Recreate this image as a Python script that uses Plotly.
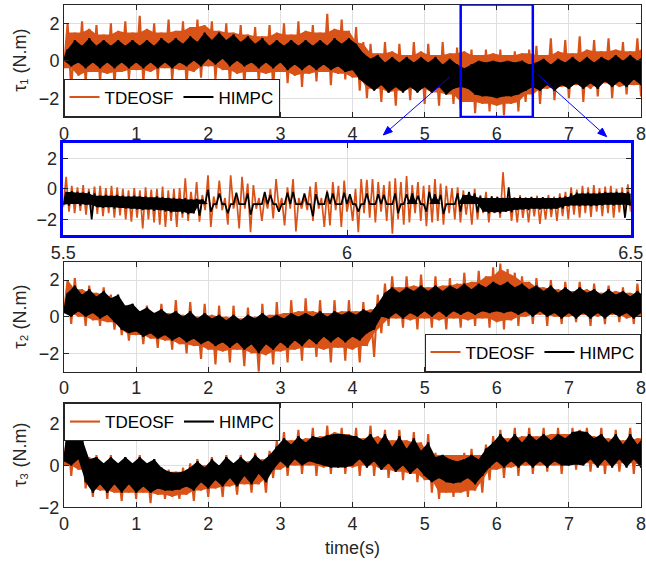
import math
import plotly.graph_objects as go

W, H = 646, 561
ORANGE = "rgb(217,83,25)"
BLACK = "rgb(0,0,0)"
BLUE = "rgb(0,0,255)"
AXC = "rgb(38,38,38)"
GRID = "rgb(223,223,223)"
FONT = "Liberation Sans, Arial, Helvetica, sans-serif"
FS = 18

# ---- sampling times -------------------------------------------------------
t_main = [k / 10 for k in range(81)]          # 0.0 ... 8.0 s, 0.1 s apart
t_zoom = [5.5 + k / 100 for k in range(101)]  # 5.50 ... 6.50 s, 0.01 s apart

# ---- tau1: peak (hi) and trough (lo) values per sample --------------------
tau1_tdeosf_hi = [2.0, 1.5, 2.1, 1.7, 1.9, 1.4, 2.0, 1.6, 2.1, 1.5,
                  2.4, 1.7, 2.0, 1.5, 2.2, 1.6, 2.1, 1.8, 2.2, 1.9,
                  2.1, 1.6, 2.0, 1.5, 1.9, 1.4, 1.8, 1.3, 1.9, 1.5,
                  2.0, 1.4, 2.1, 1.6, 1.9, 1.5, 2.5, 1.7, 2.2, 1.6,
                  1.8, 1.0, 0.9, 0.4, 1.0, 0.5, 0.9, 0.3, 1.0, 0.5,
                  0.9, 0.3, 1.0, 0.4, 0.7, 0.5, 0.6, 0.3, 0.6, 0.4,
                  0.6, 0.3, 0.5, 0.4, 0.6, 0.8, 0.3, 1.2, 0.5, 1.1,
                  0.4, 1.3, 0.6, 1.1, 0.5, 1.2, 0.6, 1.0, 0.5, 1.2, 0.7]
tau1_tdeosf_lo = [-0.4, -1.5, -0.8, -1.2, -0.6, -1.1, -0.7, -1.3, -0.6, -1.0,
                  -0.5, -1.2, -0.6, -1.0, -0.4, -1.1, -0.5, -1.3, -0.6, -0.9,
                  -0.3, -1.0, -0.5, -1.2, -0.7, -1.3, -0.6, -1.1, -0.7, -1.4,
                  -0.6, -1.2, -0.8, -1.4, -0.7, -1.1, -0.6, -1.3, -0.7, -1.0,
                  -0.9, -1.6, -2.0, -1.5, -2.2, -1.7, -2.4, -1.6, -2.1, -1.5,
                  -2.3, -1.7, -2.4, -1.8, -2.3, -2.6, -2.2, -2.8, -2.3, -2.7,
                  -2.4, -2.9, -2.3, -2.7, -2.2, -1.8, -2.3, -1.5, -2.1, -1.4,
                  -2.0, -1.3, -2.2, -1.5, -1.9, -1.2, -2.0, -1.4, -1.8, -1.3, -1.9]
tau1_himpc_hi = [0.6, 1.1, 0.8, 1.2, 0.8, 1.1, 0.8, 1.1, 0.8, 1.1,
                 0.8, 1.1, 0.8, 1.2, 0.9, 1.2, 0.9, 1.3, 1.0, 1.5,
                 1.1, 1.5, 1.1, 1.4, 1.0, 1.3, 0.9, 1.2, 0.8, 1.1,
                 0.8, 1.1, 0.8, 1.1, 0.8, 1.1, 0.8, 1.2, 0.9, 1.2,
                 0.9, 0.4, 0.1, 0.3, -0.1, 0.2, -0.1, 0.2, -0.1, 0.2,
                 -0.1, 0.2, -0.2, 0.1, -0.2, -0.4, -0.2, 0.0, -0.1, 0.0,
                 -0.1, 0.0, -0.1, 0.0, -0.2, -0.1, 0.1, -0.2, 0.1, -0.1,
                 0.2, -0.1, 0.2, -0.1, 0.2, 0.0, 0.3, 0.0, 0.3, 0.0, 0.3]
tau1_himpc_lo = [0.0, -0.3, -0.1, -0.4, -0.1, -0.4, -0.1, -0.4, -0.1, -0.4,
                 -0.1, -0.4, -0.1, -0.4, -0.1, -0.4, -0.1, -0.3, 0.0, -0.3,
                 0.1, -0.2, 0.1, -0.3, 0.0, -0.3, -0.1, -0.4, -0.1, -0.4,
                 -0.1, -0.5, -0.2, -0.5, -0.2, -0.5, -0.2, -0.5, -0.3, -0.6,
                 -0.5, -1.0, -1.3, -1.6, -1.3, -1.7, -1.4, -1.7, -1.4, -1.7,
                 -1.4, -1.7, -1.4, -1.8, -1.5, -1.4, -1.5, -1.8, -1.9, -1.9,
                 -2.0, -1.9, -1.9, -1.8, -1.6, -1.4, -1.6, -1.3, -1.6, -1.3,
                 -1.5, -1.2, -1.5, -1.2, -1.5, -1.1, -1.4, -1.1, -1.4, -1.0, -1.3]

# ---- tau1, close-up of 5.5 s ... 6.5 s -------------------------------------
zoom_tdeosf_hi = [0.8, 0.2, 0.1, 0.25, 0.0, 0.15, 0.2, 0.05, 0.2, 0.1,
                  0.0, -0.1, 0.05, -0.1, 0.1, -0.05, 0.0, 0.15, -0.1, 0.0,
                  0.05, 0.7, -0.2, 0.45, -0.4, 0.9, -0.5, 0.55, -0.6, 0.9,
                  -0.5, 0.8, 0.35, 0.25, -0.6, -0.5, 0.0, 0.65, -0.6, 0.1,
                  0.65, -0.6, -0.5, 0.15, 0.45, -0.6, -0.1, 0.45, 0.2, 0.55,
                  -0.5, 0.0, 0.65, 0.6, 0.65, 0.45, 0.25, 0.5, 0.7, 0.45,
                  0.85, 0.25, 0.45, 0.2, 0.25, 0.65, 0.35, 0.2, 0.05, 0.1,
                  -0.1, -0.3, 0.0, -0.4, -0.2, -0.5, -0.5, 1.1, -0.3, -0.55,
                  -0.4, -0.55, -0.5, -0.45, -0.55, -0.4, -0.5, -0.3, -0.2, 0.1,
                  -0.05, 0.2, 0.1, 0.25, 0.05, 0.15, 0.2, 0.0, 0.1, 0.3, 0.0]
zoom_tdeosf_lo = [-1.2, -1.5, -1.6, -1.45, -1.7, -1.5, -1.65, -1.8, -1.6, -1.9,
                  -1.75, -2.0, -2.15, -1.9, -2.6, -2.0, -2.2, -2.35, -2.5, -2.1,
                  -2.5, -1.9, -2.1, -1.6, -2.15, -1.4, -2.5, -1.3, -1.4, -2.35,
                  -1.3, -2.6, -1.3, -2.85, -1.3, -2.1, -1.3, -1.95, -1.3, -2.4,
                  -1.3, -2.8, -1.3, -1.4, -2.1, -1.3, -2.5, -2.4, -1.4, -2.5,
                  -1.5, -2.1, -2.85, -1.6, -1.9, -2.2, -1.5, -2.1, -2.95, -2.0,
                  -2.35, -2.2, -1.6, -2.1, -2.45, -2.2, -2.1, -2.35, -1.6, -2.0,
                  -2.2, -1.7, -2.35, -2.0, -1.6, -2.2, -1.6, -1.9, -1.5, -2.1,
                  -2.2, -1.9, -2.2, -1.8, -2.3, -2.0, -1.85, -2.1, -1.8, -2.0,
                  -1.7, -1.9, -1.6, -1.85, -1.5, -1.8, -1.6, -1.9, -1.55, -1.7, -1.5]
zoom_himpc_hi = [-0.2, -0.15, -0.2, -0.25, -0.2, -0.3, -0.45, -0.4, -0.45, -0.4,
                 -0.45, -0.5, -0.45, -0.5, -0.5, -0.55, -0.5, -0.55, -0.6, -0.6,
                 -0.65, -0.6, -0.7, -0.65, -0.7, -0.05, -1.0, -0.3, -1.0, -1.0,
                 -0.25, -1.0, -0.3, -1.0, -1.0, -0.2, -0.4, -1.0, -1.0, -0.25,
                 -0.2, -1.0, -0.3, -1.0, -0.35, -1.0, -0.2, -0.3, -1.0, -0.25,
                 -0.35, -1.0, -1.0, -0.3, -1.0, -0.35, -0.4, -1.0, -0.3, -1.0,
                 -0.35, -0.3, -0.45, -1.0, -0.2, -0.35, -0.4, -1.0, -1.0, -0.3,
                 -0.4, -0.2, -0.3, -0.5, -0.6, -0.5, -0.55, -0.6, 0.1, -0.6,
                 -0.55, -0.6, -0.55, -0.6, -0.55, -0.6, -0.6, -0.55, -0.5, -0.3,
                 -0.25, -0.3, -0.25, -0.3, -0.25, -0.2, -0.25, -0.2, -0.25, -0.2, -0.3]
zoom_himpc_lo = [-1.05, -1.1, -1.0, -1.1, -1.05, -2.0, -1.2, -1.25, -1.2, -1.3,
                 -1.25, -1.3, -1.3, -1.35, -1.4, -1.35, -1.45, -1.4, -1.5, -1.55,
                 -1.5, -1.6, -1.65, -1.6, -1.75, -1.0, -1.5, -1.0, -1.0, -1.6,
                 -1.0, -1.0, -1.0, -1.7, -1.0, -1.0, -1.0, -1.0, -1.5, -1.0,
                 -1.0, -1.0, -1.0, -1.0, -1.8, -1.0, -1.0, -1.0, -1.0, -1.0,
                 -1.0, -1.0, -1.5, -1.0, -1.0, -1.0, -1.0, -1.0, -1.0, -1.6,
                 -1.0, -1.0, -1.0, -1.0, -1.5, -1.0, -1.0, -1.65, -1.0, -1.0,
                 -1.5, -1.0, -1.0, -1.55, -1.5, -1.6, -1.55, -1.6, -1.5, -1.55,
                 -1.4, -1.35, -1.4, -1.3, -1.35, -1.3, -1.35, -1.3, -1.3, -1.15,
                 -1.1, -1.15, -1.1, -1.15, -1.1, -1.1, -1.05, -1.1, -1.05, -1.9, -1.1]

# ---- tau2 ----------------------------------------------------------------
tau2_tdeosf_hi = [2.0, 2.1, 1.5, 1.7, 1.3, 1.6, 1.2, 1.1, 0.5, 0.7,
                  0.2, 0.6, 0.1, 0.7, 0.2, 0.9, 0.1, 0.8, 0.0, 0.7,
                  0.1, 0.6, 0.0, 0.6, -0.1, 0.5, 0.0, 0.7, 0.1, 0.8,
                  0.2, 0.9, 0.3, 1.0, 0.3, 0.9, 0.2, 0.9, 0.3, 0.9,
                  0.3, 0.8, 0.4, 1.2, 1.8, 2.2, 1.6, 2.2, 1.7, 2.3,
                  1.6, 2.2, 1.7, 2.1, 1.8, 2.4, 1.9, 2.5, 2.2, 2.7,
                  2.9, 2.6, 2.4, 2.2, 1.9, 2.1, 1.6, 2.0, 1.5, 1.9,
                  1.4, 1.9, 1.5, 1.8, 1.3, 1.7, 1.4, 1.6, 1.3, 1.8, 1.2]
tau2_tdeosf_lo = [0.2, -0.4, 0.0, -0.5, -0.2, -0.5, -0.3, -0.7, -1.0, -1.3,
                  -1.0, -1.5, -1.2, -1.7, -1.3, -1.8, -1.5, -2.0, -1.6, -2.3,
                  -1.8, -2.6, -1.9, -2.5, -1.8, -2.7, -2.0, -3.0, -2.1, -2.6,
                  -1.9, -2.5, -1.8, -2.4, -1.7, -2.2, -1.8, -2.5, -1.7, -2.4,
                  -1.8, -2.5, -1.6, -2.2, -0.9, -0.5, -0.1, -0.6, -0.2, -0.7,
                  -0.1, -0.6, -0.2, -0.7, -0.1, -0.6, -0.2, -0.5, -0.1, -0.6,
                  -0.3, -0.7, -0.2, -0.5, 0.0, -0.4, 0.1, -0.5, 0.0, -0.4,
                  0.0, -0.3, 0.1, -0.5, 0.0, -0.4, 0.1, -0.3, -0.1, -0.4, 0.0]
tau2_himpc_hi = [1.3, 1.7, 1.2, 1.5, 1.1, 1.4, 1.0, 1.2, 0.6, 0.7,
                 0.3, 0.5, 0.2, 0.4, 0.1, 0.3, 0.0, 0.3, -0.1, 0.2,
                 -0.1, 0.1, -0.2, 0.1, -0.2, 0.1, -0.1, 0.2, -0.1, 0.1,
                 -0.1, 0.2, 0.0, 0.2, 0.0, 0.3, 0.0, 0.3, 0.1, 0.3,
                 0.1, 0.4, 0.2, 0.7, 1.3, 1.6, 1.3, 1.6, 1.4, 1.7,
                 1.4, 1.7, 1.4, 1.7, 1.5, 1.8, 1.5, 1.8, 1.6, 1.9,
                 1.7, 1.9, 1.6, 1.8, 1.5, 1.7, 1.4, 1.7, 1.3, 1.6,
                 1.3, 1.6, 1.3, 1.5, 1.2, 1.5, 1.2, 1.4, 1.1, 1.4, 1.1]
tau2_himpc_lo = [0.2, 0.0, 0.3, 0.0, 0.2, -0.1, 0.1, -0.3, -0.7, -0.9,
                 -0.8, -1.1, -0.9, -1.2, -1.0, -1.3, -1.1, -1.4, -1.2, -1.5,
                 -1.3, -1.6, -1.4, -1.7, -1.4, -1.8, -1.5, -2.0, -1.5, -1.8,
                 -1.4, -1.7, -1.3, -1.6, -1.2, -1.5, -1.1, -1.4, -1.1, -1.4,
                 -1.1, -1.3, -0.9, -0.7, 0.0, -0.1, 0.2, -0.1, 0.2, 0.0,
                 0.3, 0.0, 0.3, 0.0, 0.3, 0.1, 0.3, 0.1, 0.3, 0.2,
                 0.3, 0.2, 0.3, 0.1, 0.3, 0.0, 0.3, 0.0, 0.2, -0.1,
                 0.2, -0.1, 0.2, -0.1, 0.2, -0.1, 0.2, 0.0, 0.2, -0.1, 0.2]

# ---- tau3 ----------------------------------------------------------------
tau3_tdeosf_hi = [1.8, 1.3, 1.5, 0.4, 0.5, 0.1, 0.5, 0.0, 0.4, 0.1,
                  0.5, 0.0, 0.3, -0.1, -0.2, -0.3, -0.1, 0.1, 0.3, 0.0,
                  0.4, 0.0, 0.5, 0.1, 0.5, 0.2, 0.6, 0.3, 0.7, 1.2,
                  1.6, 1.2, 1.7, 1.3, 1.8, 1.4, 1.9, 1.6, 1.8, 1.5,
                  1.8, 1.3, 1.9, 1.4, 1.7, 1.2, 1.7, 1.2, 1.6, 1.1,
                  1.5, 0.6, 0.5, 0.5, 0.5, 0.6, 0.8, 0.5, 1.0, 1.4,
                  1.7, 1.3, 1.8, 1.4, 1.8, 1.4, 1.8, 1.5, 1.8, 1.5,
                  1.8, 1.7, 1.8, 1.4, 1.8, 1.3, 1.7, 1.2, 1.8, 1.3, 1.6]
tau3_tdeosf_lo = [0.0, -0.5, -0.2, -1.1, -1.5, -1.2, -1.6, -1.3, -1.7, -1.3,
                  -1.6, -1.3, -1.8, -1.4, -1.6, -1.5, -1.6, -1.4, -1.7, -1.2,
                  -1.5, -1.1, -1.5, -1.0, -1.4, -0.9, -1.3, -0.9, -1.3, -0.6,
                  -0.2, -0.5, 0.0, -0.4, 0.0, -0.5, -0.1, -0.4, 0.0, -0.4,
                  -0.1, -0.5, 0.0, -0.5, -0.2, -0.6, -0.3, -0.7, -0.4, -0.8,
                  -0.7, -1.3, -1.6, -1.3, -1.5, -1.3, -1.5, -1.2, -1.3, -0.7,
                  -0.2, -0.6, -0.1, -0.5, 0.0, -0.4, 0.0, -0.3, 0.0, -0.4,
                  0.0, -0.2, 0.1, -0.3, 0.0, -0.4, 0.0, -0.3, 0.1, -0.4, 0.0]
tau3_himpc_hi = [1.5, 1.2, 1.3, 0.3, 0.4, 0.1, 0.4, 0.1, 0.4, 0.1,
                 0.4, 0.1, 0.3, -0.1, -0.3, -0.35, -0.3, -0.1, 0.2, -0.1,
                 0.3, 0.0, 0.4, 0.1, 0.4, 0.1, 0.5, 0.2, 0.5, 0.9,
                 1.3, 1.0, 1.4, 1.1, 1.4, 1.3, 1.45, 1.5, 1.5, 1.45,
                 1.4, 1.2, 1.5, 1.0, 1.5, 0.9, 1.4, 0.8, 1.3, 0.7,
                 1.1, 0.4, 0.5, 0.3, 0.2, 0.3, 0.5, 0.3, 0.8, 1.1,
                 1.5, 1.1, 1.5, 1.1, 1.5, 1.2, 1.5, 1.2, 1.5, 1.3,
                 1.6, 1.65, 1.6, 1.3, 1.5, 1.1, 1.5, 1.0, 1.5, 1.0, 1.4]
tau3_himpc_lo = [0.2, 0.0, 0.3, -0.8, -1.3, -0.9, -1.3, -0.9, -1.3, -0.9,
                 -1.3, -1.0, -1.3, -1.1, -1.2, -1.2, -1.15, -1.0, -1.2, -0.8,
                 -1.1, -0.7, -1.0, -0.6, -1.0, -0.5, -0.9, -0.4, -0.8, -0.2,
                 0.2, -0.1, 0.3, 0.0, 0.2, 0.1, 0.0, -0.1, -0.1, -0.1,
                 0.0, 0.3, -0.1, 0.2, -0.2, 0.1, -0.3, 0.0, -0.4, -0.1,
                 -0.5, -0.8, -0.6, -0.8, -0.85, -0.8, -0.6, -0.9, -0.5, -0.1,
                 0.2, -0.1, 0.2, -0.1, 0.2, -0.1, 0.2, -0.1, 0.2, 0.0,
                 0.0, 0.05, 0.0, 0.3, -0.1, 0.3, -0.1, 0.3, -0.1, 0.3, -0.1]

series_names = ["TDEOSF", "HIMPC"]
x_ticks_main = [0, 1, 2, 3, 4, 5, 6, 7, 8]
x_ticks_zoom = [5.5, 6, 6.5]
y_ticks = [-2, 0, 2]
y_labels = {1: "τ₁ (N.m)", 3: "τ₂ (N.m)", 4: "τ₃ (N.m)"}


def zigzag(t, lo, hi, half):
    """Alternate trough and peak of every sample into one polyline."""
    xs, ys = [], []
    for tk, a, b in zip(t, lo, hi):
        xs += [tk, tk + half]
        ys += [a, b]
    return xs, ys


def outline(t, lo, hi, half, mode):
    """Closed outline of the area the signal sweeps densely.

    "full":   along the peaks and back along the troughs.
    "shared": only what neighbouring samples have in common, so that
              single spikes stay as bare lines.
    """
    n = len(t)
    if mode == "shared":
        top = [min(hi[max(k - 1, 0):k + 2]) for k in range(n)]
        bot = [max(lo[max(k - 1, 0):k + 2]) for k in range(n)]
    else:
        top, bot = list(hi), list(lo)
    xs = [tk + half for tk in t] + [tk for tk in reversed(t)]
    ys = top + bot[::-1]
    return xs, ys


fig = go.Figure()


def add_series(xa, ya, t, half, lo, hi, color, name, legend_id, lw, fill_mode):
    if fill_mode is not None:
        bx, by = outline(t, lo, hi, half, fill_mode)
        fig.add_trace(go.Scatter(x=bx, y=by, mode="lines", fill="toself",
                                 fillcolor=color, line=dict(width=0),
                                 xaxis=xa, yaxis=ya, showlegend=False,
                                 hoverinfo="skip"))
    zx, zy = zigzag(t, lo, hi, half)
    fig.add_trace(go.Scatter(x=zx, y=zy, mode="lines", name=name,
                             line=dict(color=color, width=lw),
                             xaxis=xa, yaxis=ya,
                             showlegend=legend_id is not None,
                             legend=legend_id or "legend", hoverinfo="skip"))


def add_panel(n, t, half, o_lo, o_hi, b_lo, b_hi, legend_id, lw, o_fill, b_fill):
    xa, ya = ("x", "y") if n == 1 else (f"x{n}", f"y{n}")
    add_series(xa, ya, t, half, o_lo, o_hi, ORANGE, series_names[0],
               legend_id, lw, o_fill)
    add_series(xa, ya, t, half, b_lo, b_hi, BLACK, series_names[1],
               legend_id, lw, b_fill)


add_panel(1, t_main, 0.05, tau1_tdeosf_lo, tau1_tdeosf_hi,
          tau1_himpc_lo, tau1_himpc_hi, "legend", 2.1, "shared", "full")
add_panel(2, t_zoom, 0.005, zoom_tdeosf_lo, zoom_tdeosf_hi,
          zoom_himpc_lo, zoom_himpc_hi, None, 1.7, None, "shared")
add_panel(3, t_main, 0.05, tau2_tdeosf_lo, tau2_tdeosf_hi,
          tau2_himpc_lo, tau2_himpc_hi, "legend2", 2.1, "shared", "full")
add_panel(4, t_main, 0.05, tau3_tdeosf_lo, tau3_tdeosf_hi,
          tau3_himpc_lo, tau3_himpc_hi, "legend3", 2.1, "shared", "full")


def fx(px):
    return px / W


def fy(py):
    return 1 - py / H


# plot areas in pixels: (left, right, top, bottom)
boxes = {1: (64, 641, 4.5, 117), 2: (63.3, 630.7, 143.3, 234.5),
         3: (64, 641, 261.7, 371.7), 4: (64, 641, 402.7, 507.3)}
xranges = {1: [0, 8], 2: [5.5, 6.5], 3: [0, 8], 4: [0, 8]}
yranges = {1: [-3, 3], 2: [-3, 3], 3: [-3, 3], 4: [-2, 3]}

layout = dict(width=W, height=H, template="none",
              margin=dict(l=0, r=0, t=0, b=0, pad=0, autoexpand=False),
              paper_bgcolor="white", plot_bgcolor="white",
              font=dict(family=FONT, size=FS, color=AXC), autosize=False)

for n, (l, r, tp, bt) in boxes.items():
    sfx = "" if n == 1 else str(n)
    edge = BLUE if n == 2 else AXC
    ew = 2.5 if n == 2 else 1
    common = dict(showline=True, mirror="ticks", linecolor=edge, linewidth=ew,
                  ticks="inside", ticklen=5, tickwidth=1, tickcolor=AXC,
                  showgrid=True, gridcolor=GRID, gridwidth=1, zeroline=False,
                  automargin=False, ticklabeloverflow="allow",
                  tickfont=dict(family=FONT, size=FS, color=AXC))
    layout["xaxis" + sfx] = dict(domain=[fx(l), fx(r)], range=xranges[n],
                                 anchor="y" + sfx,
                                 tickvals=x_ticks_zoom if n == 2 else x_ticks_main,
                                 **common)
    layout["yaxis" + sfx] = dict(domain=[fy(bt), fy(tp)], range=yranges[n],
                                 anchor="x" + sfx, tickvals=y_ticks, **common)

legend_style = dict(orientation="h", bgcolor="white", bordercolor=AXC,
                    borderwidth=1, font=dict(family=FONT, size=17, color="black"),
                    tracegroupgap=0, itemclick=False, itemdoubleclick=False)
layout["legend"] = dict(x=fx(63.5), y=fy(116.5), xanchor="left",
                        yanchor="bottom", **legend_style)
layout["legend2"] = dict(x=fx(640.5), y=fy(371.5), xanchor="right",
                         yanchor="bottom", **legend_style)
layout["legend3"] = dict(x=fx(64), y=fy(403), xanchor="left",
                         yanchor="top", **legend_style)

# selection box around the enlarged interval
shapes = [dict(type="rect", xref="x", yref="y", x0=5.5, x1=6.5,
               y0=-3, y1=3, line=dict(color=BLUE, width=2.5), layer="above")]

# arrows from the selection box down to the enlarged panel (pixel geometry)
for (tx, ty, hx, hy) in [(450, 76.7, 383.3, 135), (538.3, 75, 606.7, 136.7)]:
    dx, dy = hx - tx, hy - ty
    d = math.hypot(dx, dy)
    ux, uy = dx / d, dy / d
    hl, hw = 9.0, 3.5
    bx, by = hx - ux * hl, hy - uy * hl
    shapes.append(dict(type="line", xref="paper", yref="paper",
                       x0=fx(tx), y0=fy(ty), x1=fx(bx), y1=fy(by),
                       line=dict(color=BLUE, width=1), layer="above"))
    p1 = (bx - uy * hw, by + ux * hw)
    p2 = (bx + uy * hw, by - ux * hw)
    path = "M {:.5f} {:.5f} L {:.5f} {:.5f} L {:.5f} {:.5f} Z".format(
        fx(hx), fy(hy), fx(p1[0]), fy(p1[1]), fx(p2[0]), fy(p2[1]))
    shapes.append(dict(type="path", xref="paper", yref="paper", path=path,
                       fillcolor=BLUE, line=dict(color=BLUE, width=1),
                       layer="above"))
layout["shapes"] = shapes

ann = []
for n, lab in y_labels.items():
    l, r, tp, bt = boxes[n]
    ann.append(dict(text=lab, x=fx(20), y=fy((tp + bt) / 2), xref="paper",
                    yref="paper", showarrow=False, textangle=-90,
                    xanchor="center", yanchor="middle",
                    font=dict(family=FONT, size=FS, color=AXC)))
ann.append(dict(text="time(s)", x=fx(352.5), y=fy(548), xref="paper",
                yref="paper", showarrow=False, xanchor="center",
                yanchor="middle", font=dict(family=FONT, size=FS, color=AXC)))
layout["annotations"] = ann

fig.update_layout(**layout)
fig.write_html("out.html")
